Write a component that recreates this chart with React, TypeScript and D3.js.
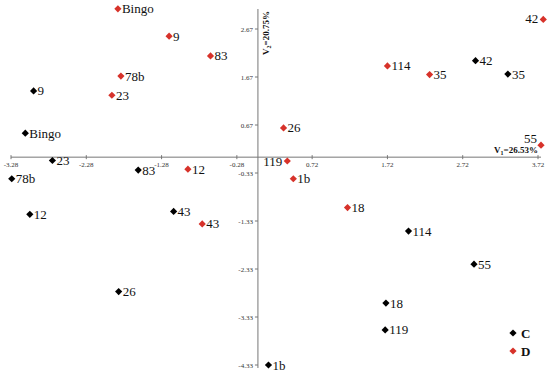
import React from 'react';
import * as d3 from 'd3';

const names = ["Bingo", "9", "23", "78b", "12", "83", "43", "26", "1b", "42", "35", "114", "55", "18", "119"];
const cX = [-3.09, -2.98, -2.73, -3.27, -3.03, -1.59, -1.12, -1.85, 0.14, 2.89, 3.32, 2.0, 2.87, 1.7, 1.69];
const cY = [0.5, 1.38, -0.07, -0.45, -1.19, -0.27, -1.13, -2.8, -4.33, 2.01, 1.73, -1.54, -2.23, -3.04, -3.6];
const dX = [-1.86, -1.18, -1.94, -1.82, -0.93, -0.63, -0.74, 0.34, 0.47, 3.79, 2.28, 1.72, 3.76, 1.19, 0.39];
const dY = [3.09, 2.52, 1.29, 1.69, -0.25, 2.11, -1.39, 0.61, -0.45, 2.87, 1.72, 1.9, 0.25, -1.05, -0.08];

const xTicks = [-3.28, -2.28, -1.28, -0.28, 0.72, 1.72, 2.72, 3.72];
const yTicks = [2.67, 1.67, 0.67, -0.33, -1.33, -2.33, -3.33, -4.33];

const W = 550, H = 373;
const RED = "#d7322a";

export default function App() {
  const x = d3.scaleLinear().domain([-3.28, 3.72]).range([11, 538]);
  const y = d3.scaleLinear().domain([2.67, -4.33]).range([29, 365]);
  const diamond = d3.symbol(d3.symbolSquare, 26)();
  const x0 = x(0), y0 = y(0);
  const serif = "Liberation Serif, DejaVu Serif, serif";

  // where the red labels go left of the marker
  const leftD: Record<string, [number, number]> = { "42": [-5, 4], "119": [-5, 5], "55": [-4, -2] };

  const point = (px: number, py: number, color: string, label: string, key: string, off?: [number, number]) => (
    <g key={key}>
      <path d={diamond!} transform={`translate(${px},${py}) rotate(45)`} fill={color} />
      <text x={px + (off ? off[0] : 4)} y={py + (off ? off[1] : 4.5)} textAnchor={off ? "end" : "start"}
        fontSize={13} fill="#111">{label}</text>
    </g>
  );

  return (
    <svg width={W} height={H} style={{ position: "absolute", left: 0, top: 0, background: "#fff", fontFamily: serif }}>
      {/* axes */}
      <line x1={11} x2={541} y1={y0} y2={y0} stroke="#777" strokeWidth={1} />
      <line x1={x0} x2={x0} y1={9} y2={368} stroke="#777" strokeWidth={1} />
      {xTicks.map(t => (
        <g key={"xt" + t}>
          <line x1={x(t)} x2={x(t)} y1={y0 - 2} y2={y0 + 2} stroke="#777" />
          <text x={x(t)} y={y0 + 10} fontSize={7} textAnchor="middle" fill="#333">{t.toFixed(2)}</text>
        </g>
      ))}
      {yTicks.map(t => (
        <g key={"yt" + t}>
          <line x1={x0 - 3} x2={x0} y1={y(t)} y2={y(t)} stroke="#777" />
          <text x={x0 - 5} y={y(t) + 2.5} fontSize={7} textAnchor="end" fill="#333">{t.toFixed(2)}</text>
        </g>
      ))}
      <text x={538} y={y0 - 4} fontSize={9} fontWeight="bold" textAnchor="end" fill="#111">
        V<tspan fontSize={6} dy={2}>1</tspan><tspan dy={-2}>=26.53%</tspan>
      </text>
      <text transform={`translate(${x0 + 11},55) rotate(-90)`} fontSize={9} fontWeight="bold" fill="#111">
        V<tspan fontSize={6} dy={2}>2</tspan><tspan dy={-2}>=20.75%</tspan>
      </text>

      {names.map((n, i) => point(x(cX[i]), y(cY[i]), "#000", n, "c" + i))}
      {names.map((n, i) => point(x(dX[i]), y(dY[i]), RED, n, "d" + i, leftD[n]))}

      {/* legend */}
      <g>
        <path d={diamond!} transform="translate(513,333) rotate(45)" fill="#000" />
        <text x={521} y={337.5} fontSize={13} fontWeight="bold" fill="#111">C</text>
        <path d={diamond!} transform="translate(513,351) rotate(45)" fill={RED} />
        <text x={521} y={355.5} fontSize={13} fontWeight="bold" fill="#111">D</text>
      </g>
    </svg>
  );
}
